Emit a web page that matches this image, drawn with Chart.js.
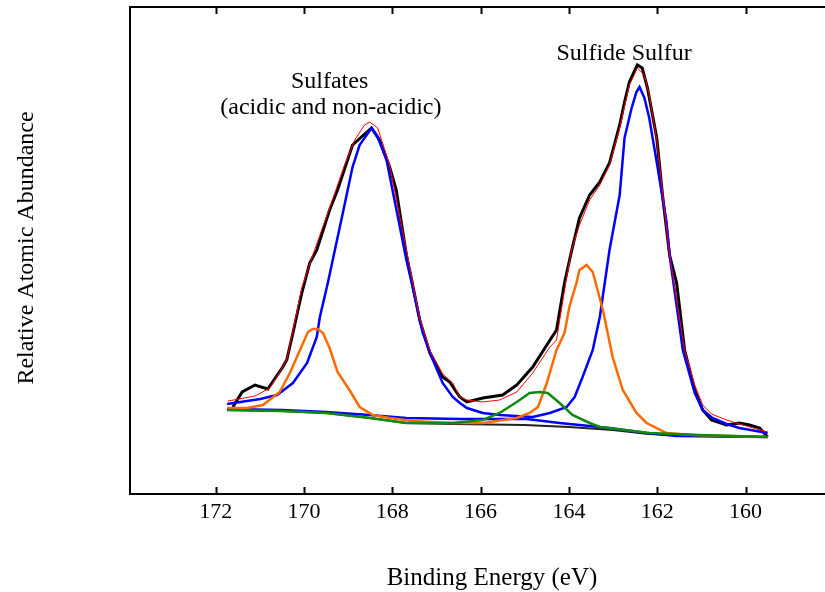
<!DOCTYPE html>
<html>
<head>
<meta charset="utf-8">
<script src="https://cdn.jsdelivr.net/npm/chart.js@4"></script>
<style>
  html, body { margin: 0; padding: 0; background: #fff; }
  #wrap { width: 825px; height: 592px; }
</style>
</head>
<body>
<div id="wrap"><canvas id="xps" width="825" height="592"></canvas></div>
<script>
// binding energy (eV) / relative abundance
const tickValues = [172, 170, 168, 166, 164, 162, 160];

const measuredE = [171.61, 171.40, 171.11, 170.82, 170.48, 170.39, 170.25, 170.05, 169.87, 169.71, 169.42, 169.24, 168.90, 168.70, 168.47, 168.29, 168.06, 167.91, 167.68, 167.56, 167.38, 167.15, 166.86, 166.70, 166.47, 166.31, 165.95, 165.50, 165.18, 164.82, 164.50, 164.28, 164.10, 163.94, 163.76, 163.53, 163.30, 163.08, 162.85, 162.74, 162.63, 162.45, 162.34, 162.22, 162.01, 161.88, 161.72, 161.56, 161.38, 161.15, 160.97, 160.77, 160.43, 160.14, 159.91, 159.68, 159.50];
const measuredY = [87, 102, 109, 105, 127, 134, 161, 201, 231, 244, 284, 304, 349, 357, 366, 354, 327, 304, 239, 214, 174, 141, 117, 112, 97, 92, 96, 99, 109, 127, 149, 164, 211, 243, 276, 299, 312, 331, 369, 392, 412, 429, 426, 406, 356, 299, 239, 211, 144, 104, 84, 74, 69, 71, 69, 66, 57];

const fitE = [171.72, 171.11, 170.77, 170.59, 170.39, 170.05, 169.80, 169.42, 169.08, 168.85, 168.63, 168.51, 168.33, 168.06, 167.68, 167.38, 167.15, 166.86, 166.63, 166.47, 166.31, 165.95, 165.57, 165.18, 164.82, 164.43, 164.28, 164.10, 163.94, 163.76, 163.53, 163.30, 163.08, 162.85, 162.63, 162.45, 162.29, 162.18, 162.01, 161.72, 161.38, 161.15, 160.97, 160.77, 160.43, 160.14, 159.50];
const fitY = [93, 98, 106, 119, 134, 206, 239, 286, 329, 354, 369, 372, 366, 329, 244, 176, 144, 120, 111, 97, 94, 92, 94, 102, 121, 147, 154, 204, 244, 269, 294, 309, 329, 366, 409, 426, 419, 399, 354, 239, 144, 109, 89, 80, 74, 70, 62];

const mainE = [171.74, 170.99, 170.61, 170.25, 169.93, 169.71, 169.64, 169.46, 169.30, 169.12, 168.90, 168.74, 168.58, 168.47, 168.33, 168.13, 167.95, 167.68, 167.56, 167.31, 167.08, 166.86, 166.63, 166.47, 166.31, 165.95, 165.57, 164.82, 164.43, 164.05, 163.87, 163.69, 163.46, 163.30, 163.08, 162.85, 162.74, 162.58, 162.47, 162.40, 162.29, 162.18, 162.00, 161.79, 161.72, 161.42, 161.15, 160.97, 160.75, 160.43, 160.14, 159.50];
const mainY = [90, 95, 99, 111, 131, 157, 177, 211, 244, 281, 327, 349, 359, 366, 357, 334, 294, 234, 211, 161, 134, 111, 97, 91, 86, 81, 79, 77, 81, 87, 97, 117, 144, 177, 244, 299, 356, 386, 402, 407, 396, 376, 329, 272, 239, 144, 101, 84, 76, 70, 66, 61];

const orangeE = [171.74, 171.29, 170.93, 170.55, 170.32, 170.09, 169.91, 169.80, 169.69, 169.57, 169.42, 169.24, 168.97, 168.74, 168.44, 168.06, 167.54, 166.63, 165.95, 165.18, 164.89, 164.70, 164.50, 164.28, 164.10, 163.99, 163.83, 163.76, 163.60, 163.46, 163.23, 163.01, 162.78, 162.47, 162.24, 161.79, 161.20, 159.50];
const orangeY = [86, 86, 89, 102, 121, 144, 162, 165, 165, 161, 146, 122, 104, 87, 79, 76, 73, 71, 71, 76, 81, 87, 111, 144, 161, 187, 211, 224, 229, 222, 184, 137, 104, 81, 71, 61, 59, 57];

const greenE = [171.74, 170.50, 169.50, 168.51, 167.68, 166.63, 165.95, 165.57, 165.18, 164.89, 164.66, 164.48, 164.21, 163.92, 163.53, 163.30, 162.17, 161.04, 159.50];
const greenY = [84, 83, 81, 76, 71, 71, 74, 81, 92, 101, 102, 101, 91, 79, 71, 67, 61, 59, 57];

const lowE = [171.74, 170.50, 169.50, 168.51, 167.68, 166.47, 164.96, 164.21, 163.08, 162.24, 161.56, 159.50];
const lowY = [85, 84, 82, 79, 76, 75, 75, 71, 66, 61, 58, 57];

const backE = [171.74, 170.50, 169.50, 168.50, 167.70, 166.60, 165.00, 164.00, 163.00, 162.20, 161.00, 159.50];
const backY = [84, 83, 81, 76, 71, 70, 69, 67, 64, 60, 58, 57];

const labelText = ['Sulfates', '(acidic and non-acidic)', 'Sulfide Sulfur'];
const labelE = [169.42, 169.39, 162.75];
const labelY = [406, 380, 434];

const pts = (es, ys) => es.map((e, i) => ({ x: e, y: ys[i] }));
const serif = '"Liberation Serif", "Times New Roman", serif';

function line(es, ys, color, width) {
  return {
    data: pts(es, ys),
    borderColor: color,
    borderWidth: width,
    pointRadius: 0,
    tension: 0,
    fill: false
  };
}

// frame ticks (inward, top and bottom), top border, annotations and axis titles
const frameAndText = {
  id: 'frameAndText',
  afterDraw(chart) {
    const ctx = chart.ctx;
    const a = chart.chartArea;
    const xs = chart.scales.x;
    const ys = chart.scales.y;
    ctx.save();
    ctx.strokeStyle = '#000';
    ctx.lineWidth = 2;
    ctx.beginPath();
    ctx.moveTo(a.left - 1, a.top);
    ctx.lineTo(a.right, a.top);
    tickValues.forEach(v => {
      const px = Math.round(xs.getPixelForValue(v)) + 0.5;
      ctx.moveTo(px, a.top);
      ctx.lineTo(px, a.top + 7);
      ctx.moveTo(px, a.bottom);
      ctx.lineTo(px, a.bottom - 7);
    });
    ctx.stroke();
    ctx.lineWidth = 1;

    ctx.fillStyle = '#000';
    ctx.font = '24px ' + serif;
    ctx.textAlign = 'center';
    ctx.textBaseline = 'alphabetic';
    labelText.forEach((t, i) => {
      ctx.fillText(t, xs.getPixelForValue(labelE[i]), ys.getPixelForValue(labelY[i]));
    });

    ctx.font = '25px ' + serif;
    ctx.fillText('Binding Energy (eV)', 492, 585);

    ctx.font = '24px ' + serif;
    ctx.translate(33, 248);
    ctx.rotate(-Math.PI / 2);
    ctx.fillText('Relative Atomic Abundance', 0, 0);
    ctx.restore();
  }
};

new Chart(document.getElementById('xps'), {
  type: 'line',
  data: {
    datasets: [
      line(fitE, fitY, '#ff0000', 1),
      line(greenE, greenY, '#118a11', 2.5),
      line(orangeE, orangeY, '#ff6a00', 2.5),
      line(mainE, mainY, '#0000ff', 2.5),
      line(lowE, lowY, '#0000ff', 2.5),
      line(measuredE, measuredY, '#000000', 3),
      line(backE, backY, '#222222', 2)
    ]
  },
  options: {
    responsive: false,
    animation: false,
    devicePixelRatio: 1,
    layout: { padding: { top: 7, right: 0, left: 0, bottom: 0 } },
    plugins: { legend: { display: false }, tooltip: { enabled: false } },
    scales: {
      x: {
        type: 'linear',
        reverse: true,
        min: 158.2,
        max: 173.94,
        grid: { display: false, drawTicks: false },
        border: { display: true, color: '#000', width: 2 },
        ticks: {
          includeBounds: false,
          color: '#000',
          padding: 5,
          font: { family: serif, size: 22 },
          callback: v => String(v)
        },
        afterBuildTicks: s => { s.ticks = tickValues.map(v => ({ value: v })); },
        afterFit: s => { s.height = 98; }
      },
      y: {
        min: 0,
        max: 487,
        grid: { display: false, drawTicks: false },
        border: { display: true, color: '#000', width: 2 },
        ticks: { display: false },
        afterFit: s => { s.width = 130; }
      }
    }
  },
  plugins: [frameAndText]
});
</script>
</body>
</html>
